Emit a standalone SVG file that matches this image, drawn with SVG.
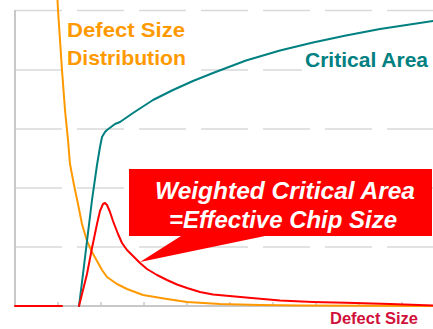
<svg xmlns="http://www.w3.org/2000/svg" width="433" height="329" viewBox="0 0 433 329">
<style>
.grid{stroke:#d9d9d9;stroke-width:1.5;stroke-dasharray:47 15;fill:none}
.axis{stroke:#c8c8c8;stroke-width:2;fill:none}
.tick{stroke:#c8c8c8;stroke-width:1.5}
.curve{fill:none;stroke-width:2;stroke-linejoin:round;stroke-linecap:round}
.lbl{font-family:"Liberation Sans",Arial,sans-serif;font-weight:bold}
.call{font-family:"Liberation Sans",Arial,sans-serif;font-weight:bold;font-style:italic;fill:#ffffff;font-size:24px}
</style>
<g id="grid">
<line class="grid" x1="15" y1="10.5" x2="433" y2="10.5"/>
<line class="grid" x1="15" y1="70" x2="433" y2="70"/>
<line class="grid" x1="15" y1="129" x2="433" y2="129"/>
<line class="grid" x1="15" y1="188" x2="433" y2="188"/>
<line class="grid" x1="15" y1="247" x2="433" y2="247"/>
</g>
<g id="axes">
<line class="axis" x1="15" y1="10" x2="15" y2="307"/>
<line class="axis" x1="14" y1="306" x2="433" y2="306"/>
<g class="tick">
<line x1="58" y1="302" x2="58" y2="306"/>
<line x1="101" y1="302" x2="101" y2="306"/>
<line x1="144" y1="302" x2="144" y2="306"/>
<line x1="187" y1="302" x2="187" y2="306"/>
<line x1="230" y1="302" x2="230" y2="306"/>
<line x1="273" y1="302" x2="273" y2="306"/>
<line x1="316" y1="302" x2="316" y2="306"/>
<line x1="359" y1="302" x2="359" y2="306"/>
<line x1="402" y1="302" x2="402" y2="306"/>
</g>
</g>
<g id="label-bg" fill="#ffffff">
<rect x="66" y="15" width="132" height="57"/>
<rect x="302" y="50" width="131" height="22"/>
</g>
<g id="connectors">
<polyline id="defect-distribution" class="curve" stroke="#ff9900" points="57.5,0 58,10 60,40 62,70 65,110 68,140 70,164 74,185 78,204 82,224 87,241 92,252 97,261 102,270 107,277 117,284 127,289 143,295 167,299 187,302 220,304 260,305 300,305.5 433,306"/>
<polyline id="critical-area" class="curve" stroke="#008080" stroke-width="2.3" points="79,306 83,274 87,241 92,200 97,165 100,147 102,137 105,132 107,130 111,127 115,124 120,122 133,113 153,100 173,90 193,81 213,73 246,60.5 280,50.5 313,42.5 346,35.5 380,29 433,21"/>
<line class="curve" stroke="#ff0000" x1="15" y1="306" x2="62" y2="306"/>
<polyline id="weighted-critical-area" class="curve" stroke="#ff0000" points="79,306 83,290 87,274 92,248 97,224 100,211 103,204 105,203 107,205 110,212 113,221 118,234 122,243 127,250 133,256 140,263 147,269 157,275 167,280 177,284.5 187,288 200,292 213,294.5 246,297.5 280,300.5 313,302 346,302.8 390,304 433,305.5"/>
</g>
<g id="callout">
<path d="M129,169 H432 V236 H265 L140,262 L181,236 H129 Z" fill="#ff0000"/>
<text class="call" x="155" y="199" textLength="260" lengthAdjust="spacingAndGlyphs">Weighted Critical Area</text>
<text class="call" x="169" y="228" textLength="228" lengthAdjust="spacingAndGlyphs">=Effective Chip Size</text>
</g>
<g id="label-distribution">
<text class="lbl" x="67" y="37" font-size="21" fill="#ff9900" textLength="118" lengthAdjust="spacingAndGlyphs">Defect Size</text>
<text class="lbl" x="67" y="65" font-size="21" fill="#ff9900" textLength="119" lengthAdjust="spacingAndGlyphs">Distribution</text>
</g>
<g id="label-critical">
<text class="lbl" x="305" y="67" font-size="20" fill="#008080" textLength="123" lengthAdjust="spacingAndGlyphs">Critical Area</text>
</g>
<g id="label-xaxis">
<text class="lbl" x="330" y="324" font-size="16.5" fill="#d0103a" textLength="88" lengthAdjust="spacingAndGlyphs">Defect Size</text>
</g>
</svg>
